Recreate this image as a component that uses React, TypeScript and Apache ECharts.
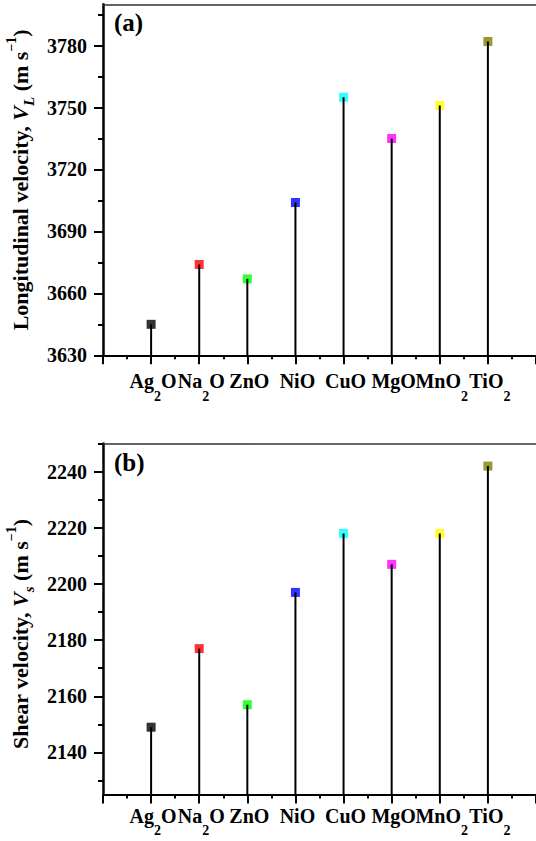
import React, { useEffect, useRef } from "react";
import * as echarts from "echarts";

const categories = ["Ag2O", "Na2O", "ZnO", "NiO", "CuO", "MgO", "MnO2", "TiO2"];
const markerColors = ["#000000", "#ff0000", "#00ff00", "#0000ff", "#00ffff", "#ff00ff", "#ffff00", "#808000"];
const longitudinalVelocity = [3645, 3674, 3667, 3704, 3755, 3735, 3751, 3782];
const shearVelocity = [2149, 2177, 2157, 2197, 2218, 2207, 2218, 2242];

const yMajorA = [3630, 3660, 3690, 3720, 3750, 3780];
const yMinorA = [3645, 3675, 3705, 3735, 3765, 3795];
const yMajorB = [2140, 2160, 2180, 2200, 2220, 2240];
const yMinorB = [2130, 2150, 2170, 2190, 2210, 2230, 2250];

const FONT = "Liberation Serif";

function toRich(name: string): string {
  const parts = name.match(/\d+|\D+/g) || [];
  return parts.map((p) => (/\d/.test(p) ? `{s|${p}}` : `{m|${p}}`)).join("");
}

const labelRich = {
  m: { fontSize: 20, fontWeight: "bold", fontFamily: FONT, color: "#000", lineHeight: 44 },
  s: { fontSize: 14, fontWeight: "bold", fontFamily: FONT, color: "#000", lineHeight: 14, verticalAlign: "bottom" },
};

const nameRich = {
  b: { fontSize: 22, fontWeight: "bold", fontFamily: FONT, color: "#000", lineHeight: 32 },
  i: { fontSize: 22, fontWeight: "bold", fontStyle: "italic", fontFamily: FONT, color: "#000", lineHeight: 32 },
  sub: { fontSize: 15, fontWeight: "bold", fontStyle: "italic", fontFamily: FONT, color: "#000", lineHeight: 15, verticalAlign: "bottom" },
  sup: { fontSize: 14, fontWeight: "bold", fontFamily: FONT, color: "#000", lineHeight: 14, verticalAlign: "top" },
};

export default function App() {
  const ref = useRef<HTMLDivElement>(null);
  useEffect(() => {
    if (!ref.current) return;
    const chart = echarts.init(ref.current, null, { renderer: "svg" });

    const panels = [
      { top: 4.3, values: longitudinalVelocity, min: 3630, max: 3800, majors: yMajorA, minors: yMinorA, labelMargin: 4,
        name: "{b|Longitudinal velocity, }{i|V}{sub|L}{b| (m s}{sup|−1}{b|)}", namePad: [0, 0, 0, 0], tag: "(a)" },
      { top: 443.6, values: shearVelocity, min: 2125, max: 2250, majors: yMajorB, minors: yMinorB, labelMargin: -1,
        name: "{b|Shear velocity, }{i|V}{sub|s}{b| (m s}{sup|−1}{b|)}", namePad: [0, 30, 0, 0], tag: "(b)" },
    ];

    const grid: any[] = [];
    const xAxis: any[] = [];
    const yAxis: any[] = [];
    const series: any[] = [];
    const graphic: any[] = [];

    panels.forEach((p, gi) => {
      grid.push({ left: 103, top: p.top, width: 433, height: 351, containLabel: false, outerBoundsMode: "none" });
      xAxis.push({
        type: "value", gridIndex: gi, position: "bottom", min: 0, max: 9, interval: 1,
        axisLine: { onZero: false, lineStyle: { color: "#000", width: 2 } },
        axisTick: { show: true, length: 9, lineStyle: { color: "#000", width: 2 } },
        minorTick: { show: true, splitNumber: 2, length: 4, lineStyle: { color: "#000", width: 2 } },
        splitLine: { show: false }, minorSplitLine: { show: false },
        axisLabel: {
          margin: p.labelMargin,
          padding: [0, 0, 0, 4],
          formatter: (v: number) => {
            const r = Math.round(v);
            if (Math.abs(v - r) > 1e-6) return "";
            const i = r - 1;
            if (i < 0 || i >= categories.length) return "";
            return toRich(categories[i]);
          },
          rich: labelRich,
        },
      });
      xAxis.push({
        type: "value", gridIndex: gi, position: "top", min: 0, max: 9,
        axisLine: { onZero: false, lineStyle: { color: "#333", width: 1.5 } },
        axisTick: { show: false }, axisLabel: { show: false }, splitLine: { show: false },
      });
      yAxis.push({
        type: "value", gridIndex: gi, position: "left", min: p.min, max: p.max,
        axisLine: { show: true, onZero: false, lineStyle: { color: "#000", width: 2.5 } },
        axisTick: { show: false },
        axisLabel: {
          customValues: p.majors, margin: 16, fontSize: 20, fontWeight: "bold", fontFamily: FONT, color: "#000",
          formatter: (v: number) => String(v),
        },
        splitLine: { show: false },
        name: p.name, nameLocation: "middle", nameGap: 64, nameRotate: 90,
        nameTextStyle: { rich: nameRich, padding: p.namePad },
      });
      yAxis.push({
        type: "value", gridIndex: gi, position: "left", min: p.min, max: p.max,
        axisLine: { show: false, onZero: false },
        axisTick: { show: true, inside: false, length: 9, lineStyle: { color: "#000", width: 2 }, customValues: p.majors },
        axisLabel: { show: false }, splitLine: { show: false },
      });
      yAxis.push({
        type: "value", gridIndex: gi, position: "left", min: p.min, max: p.max,
        axisLine: { show: false, onZero: false },
        axisTick: { show: true, inside: false, length: 5, lineStyle: { color: "#000", width: 2 }, customValues: p.minors },
        axisLabel: { show: false }, splitLine: { show: false },
      });

      const pts = p.values.map((v, i) => ({ value: [i + 1, v], itemStyle: { color: markerColors[i] } }));
      series.push({
        type: "scatter", xAxisIndex: gi * 2, yAxisIndex: gi * 3, symbol: "rect", symbolSize: 9,
        data: pts, z: 2,
      });
      const base = p.min;
      series.push({
        type: "custom", xAxisIndex: gi * 2, yAxisIndex: gi * 3, z: 3,
        data: p.values.map((v, i) => [i + 1, v]),
        renderItem: (params: any, api: any) => {
          const x = api.value(0);
          const y = api.value(1);
          const p0 = api.coord([x, base]);
          const p1 = api.coord([x, y]);
          return {
            type: "line",
            shape: { x1: p0[0], y1: p0[1], x2: p1[0], y2: p1[1] },
            style: { stroke: "#000", lineWidth: 2 },
          };
        },
      });
      graphic.push({
        type: "text", left: 114, top: p.top + 6,
        style: { text: p.tag, font: `bold 25px "${FONT}"`, fill: "#000" },
      });
    });

    chart.setOption({
      animation: false,
      backgroundColor: "#fff",
      grid, xAxis, yAxis, series, graphic,
    });
    return () => chart.dispose();
  }, []);
  return <div ref={ref} style={{ position: "absolute", left: 0, top: 0, width: 536, height: 841 }} />;
}
